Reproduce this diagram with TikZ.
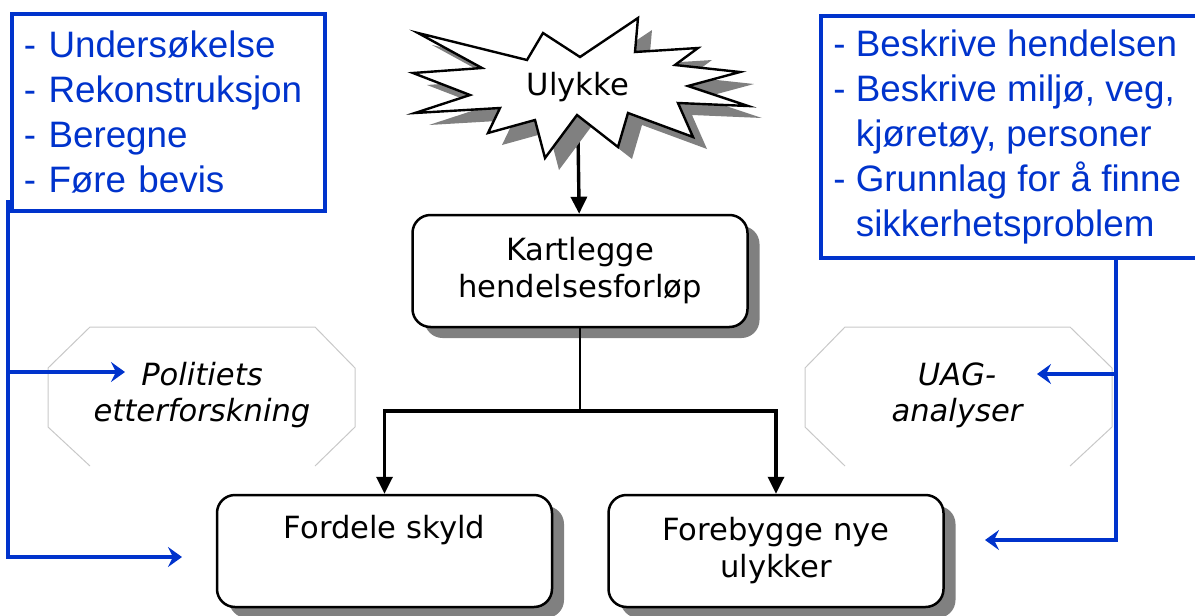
\documentclass[tikz,border=0pt]{standalone}
\usepackage{fontspec}
\setmainfont{DejaVu Sans}
\newfontfamily\arialfont{Liberation Sans}
\usetikzlibrary{arrows.meta}
\definecolor{uagblue}{RGB}{0,51,204}
\definecolor{octgray}{RGB}{200,200,200}
\definecolor{shadowgray}{RGB}{128,128,128}
\begin{document}
\begin{tikzpicture}[x=0.5pt,y=-0.5pt,
    castshadow/.style={preaction={fill=shadowgray,draw=none,
      transform canvas={shift={(#1)}}}},
    box/.style={draw,line width=1.25pt,rounded corners=9pt,fill=white,
      minimum width=167.5pt,minimum height=56pt,inner sep=0pt,align=center,
      font=\fontsize{15.3}{18.5}\selectfont,castshadow={6pt,-5.5pt}},
    note/.style={align=center,inner sep=0pt,font=\fontsize{15.3}{18}\selectfont\itshape},
    bluetext/.style={text=uagblue,align=left,
      font=\arialfont\fontsize{18.4}{22.5}\selectfont},
    bluebox/.style={bluetext,draw=uagblue,line width=2pt,inner xsep=6pt,
      text width=144.5pt,minimum height=98.25pt},
    blueline/.style={draw=uagblue,line width=2pt},
    bluearrow/.style={blueline,-{Stealth[length=7pt,width=10pt,inset=2.5pt]}},
    flow/.style={line width=1.7pt,-{Triangle[length=8.5pt,width=8pt]}}]
  \useasboundingbox (0,0) rectangle (1195,616);

  \coordinate (burstfoot) at (578,135);
  \node[box] (kart) at (580,271) {Kartlegge\\hendelsesforløp};
  \node[box] (fordel) at (384.5,551) {Fordele skyld\\\strut};
  \node[box] (foreb) at (776,551) {Forebygge nye\\ulykker};
  \draw[flow] (burstfoot) -- (kart);

  \filldraw[fill=white,line width=1.2pt,line join=miter,castshadow={7pt,-6pt}]
    (418,33) -- (527,60) -- (543,33) -- (580,57) -- (638,18) -- (635,52)
    -- (698,48) -- (675,65) -- (740,72) -- (688,86) -- (748,106) -- (678,103)
    -- (693,137) -- (628,113) -- (618,147) -- (577,115) -- (545,158) -- (535,120)
    -- (488,133) -- (500,108) -- (415,113) -- (470,95) -- (413,73) -- (482,68)
    -- cycle;
  \node[font=\fontsize{15.3}{18.5}\selectfont] (ulykke) at (578,87) {Ulykke};

  \draw[line width=1pt] (kart.south) -- (580,411) coordinate (split);
  \draw[flow] (split) -| (fordel);
  \draw[flow] (split) -| (foreb);

  \draw[octgray,line width=0.5pt] (90,466) -- (48,427) -- (48,368) -- (90,327)
    -- (315,327) -- (355,368) -- (355,427) -- (315,466);
  \draw[octgray,line width=0.5pt] (845,466) -- (805,427) -- (805,368) -- (845,327)
    -- (1070,327) -- (1112,368) -- (1112,427) -- (1070,466);
  \node[note] (politi) at (202,395) {Politiets\\etterforskning};
  \node[note] (uag) at (957,395) {UAG-\\analyser};

  \node[bluebox,anchor=north west] (undersok) at (10,12)
    {- Undersøkelse\\- Rekonstruksjon\\- Beregne\\- Føre bevis};
  \draw[blueline] (1195,15.5) -- (820.5,15.5) -- (820.5,257.5) -- (1195,257.5);
  \node[bluetext,inner sep=0pt,anchor=west] (beskriv) at (833,137)
    {- Beskrive hendelsen\\- Beskrive miljø, veg,\\\phantom{- }kjøretøy, personer\\
     - Grunnlag for å finne\\\phantom{- }sikkerhetsproblem};

  \coordinate (leftfoot) at (8,200);
  \coordinate (politiin) at (125,372);
  \coordinate (fordelin) at (182,557);
  \coordinate (rightfoot) at (1116,257.5);
  \coordinate (uagin) at (1037,374);
  \coordinate (forebin) at (985,540);
  \draw[bluearrow] (leftfoot) |- (fordelin);
  \draw[bluearrow] (leftfoot |- politiin) -- (politiin);
  \draw[bluearrow] (rightfoot) |- (forebin);
  \draw[bluearrow] (rightfoot |- uagin) -- (uagin);
\end{tikzpicture}
\end{document}
